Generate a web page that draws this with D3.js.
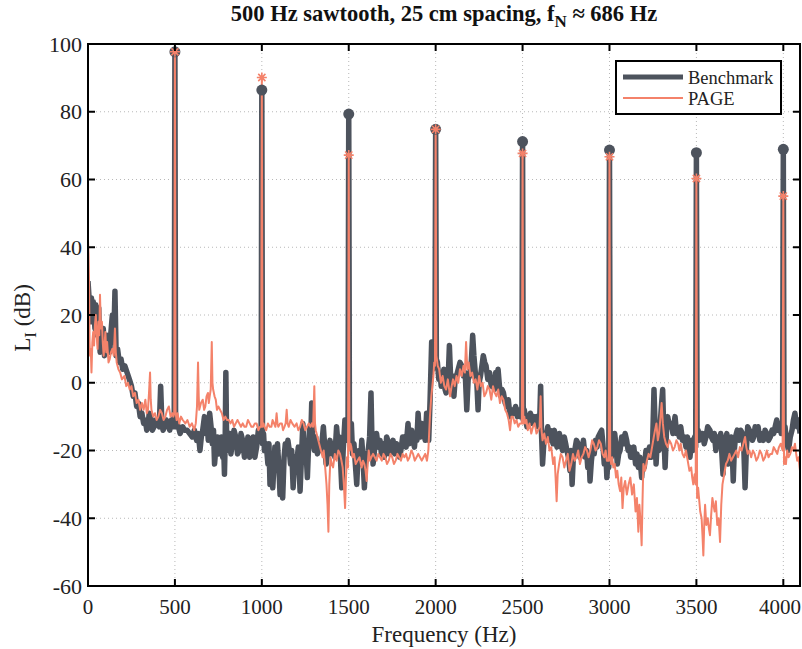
<!DOCTYPE html>
<html><head><meta charset="utf-8">
<script src="https://cdn.jsdelivr.net/npm/d3@7"></script>
<style>body{margin:0;background:#fff} svg{display:block} text{font-family:"Liberation Serif","Times New Roman",Tinos,"Nimbus Roman","DejaVu Serif",serif;}</style>
</head><body><svg id="c" width="802" height="649"></svg>
<script>
const xTicks=[0,500,1000,1500,2000,2500,3000,3500,4000];
const yTicks=[-60,-40,-20,0,20,40,60,80,100];
const harmonics=[500,1000,1500,2000,2500,3000,3500,4000];
const benchPeaks=[97.7,86.4,79.3,74.8,71.2,68.7,67.9,68.9];
const pagePeaks=[97.7,90.1,67.2,74.8,67.7,66.7,60.3,55.1];
const benchNoise=[[0,30],[5,26],[10,18],[15,22],[20,25],[25,18],[30,24],[35,20],[40,16],[45,23],[50,19],[55,14],[62,22],[66,12],[70,9],[75,14],[80,12],[88,16],[95,8],[102,13],[110,14],[118,10],[125,9],[132,15],[140,20],[148,12],[155,27],[162,8],[170,10],[180,6],[190,7],[200,4],[212,5],[225,3],[238,1],[250,-1],[260,-4],[270,-3],[280,-7],[290,-6],[300,-10],[310,-9],[320,-12],[330,-11],[338,-14],[345,-13],[352,-9],[360,-10],[370,-14],[380,-13],[390,-11],[400,-12],[410,-13],[418,-1],[425,-12],[432,-14],[440,-13],[450,-11],[460,-12],[470,-14],[480,-11],[490,-13],[496,-11],[504,-13],[512,-12],[520,-13],[530,-15],[545,-13],[555,-14],[570,-14],[585,-15],[600,-16],[612,-14],[625,-17],[635,-15],[644,-20],[652,-16],[660,-14],[670,-10],[678,-15],[685,-12],[692,-17],[700,-9],[708,-13],[715,-18],[722,-14],[728,-24],[736,-19],[745,-16],[752,-21],[760,-20],[768,-16],[775,-22],[780,-18],[785,-27],[789,-18],[793,3],[797,-14],[800,-20],[808,-17],[815,-15],[822,-21],[830,-18],[840,-14],[850,-16],[860,-21],[870,-20],[880,-15],[890,-17],[900,-22],[910,-20],[920,-16],[930,-22],[940,-18],[950,-16],[960,-22],[970,-19],[980,-14],[990,-15],[996,-16],[1004,-18],[1010,-15],[1015,-20],[1025,-18],[1035,-24],[1041,-18],[1047,-30],[1055,-22],[1063,-31],[1070,-24],[1075,-19],[1082,-23],[1090,-18],[1098,-25],[1105,-33],[1112,-26],[1120,-34],[1128,-22],[1135,-18],[1142,-21],[1150,-17],[1158,-20],[1165,-24],[1172,-20],[1180,-31],[1190,-22],[1200,-24],[1210,-19],[1220,-32],[1228,-22],[1236,-12],[1243,-20],[1250,-17],[1256,-22],[1262,-28],[1268,-20],[1275,-13],[1281,-17],[1287,-6],[1291,-15],[1295,-17],[1302,-20],[1310,-16],[1320,-21],[1330,-18],[1342,-20],[1354,-13],[1362,-19],[1370,-24],[1380,-20],[1392,-17],[1400,-21],[1410,-18],[1420,-22],[1430,-13],[1438,-18],[1445,-16],[1452,-22],[1460,-31],[1468,-20],[1478,-11],[1487,-17],[1496,-12],[1504,-13],[1510,-19],[1515,-12],[1522,-21],[1530,-18],[1538,-24],[1546,-30],[1553,-22],[1560,-20],[1567,-24],[1575,-17],[1582,-22],[1590,-31],[1596,-24],[1603,-22],[1612,-20],[1620,-16],[1628,-3],[1634,-18],[1640,-24],[1650,-19],[1660,-15],[1670,-19],[1680,-17],[1688,-21],[1695,-18],[1703,-22],[1711,-21],[1718,-16],[1725,-17],[1735,-21],[1745,-19],[1755,-17],[1765,-21],[1775,-18],[1785,-19],[1792,-22],[1800,-20],[1810,-16],[1820,-16],[1830,-19],[1841,-12],[1848,-18],[1855,-17],[1862,-14],[1870,-17],[1878,-19],[1885,-15],[1892,-17],[1899,-9],[1905,-14],[1912,-16],[1920,-12],[1930,-14],[1940,-17],[1948,-9],[1955,-13],[1960,-17],[1968,-5],[1977,12],[1983,4],[1990,5],[1996,8],[2004,7],[2010,6],[2018,1],[2025,3],[2032,-1],[2040,0],[2047,4],[2054,-2],[2060,-3],[2068,2],[2074,4],[2079,11],[2085,3],[2090,-1],[2098,2],[2105,-4],[2112,1],[2120,2],[2130,4],[2140,6],[2150,5],[2160,2],[2170,3],[2179,-8],[2187,1],[2195,2],[2205,6],[2213,14],[2220,8],[2228,3],[2236,1],[2244,-8],[2250,0],[2258,2],[2266,5],[2274,8],[2282,6],[2290,5],[2300,1],[2310,3],[2320,-1],[2330,1],[2338,-2],[2345,3],[2352,0],[2359,4],[2367,-1],[2375,-4],[2382,-2],[2390,-3],[2400,-6],[2410,-7],[2418,-5],[2428,-10],[2438,-8],[2450,-9],[2460,-7],[2470,-10],[2478,-8],[2485,-10],[2496,-10],[2504,-11],[2510,-8],[2515,-10],[2525,-13],[2535,-11],[2545,-9],[2555,-12],[2565,-10],[2575,-11],[2582,-10],[2590,-13],[2598,-12],[2604,-1],[2609,-15],[2615,-24],[2622,-18],[2630,-16],[2638,-15],[2645,-13],[2652,-17],[2658,-14],[2667,-16],[2675,-18],[2682,-14],[2690,-16],[2698,-19],[2705,-17],[2712,-15],[2720,-18],[2730,-20],[2740,-16],[2748,-18],[2755,-20],[2764,-22],[2773,-26],[2779,-20],[2785,-30],[2792,-22],[2800,-20],[2810,-17],[2820,-18],[2830,-22],[2840,-21],[2850,-17],[2860,-22],[2868,-20],[2875,-25],[2882,-21],[2888,-29],[2896,-23],[2905,-19],[2912,-21],[2920,-17],[2928,-19],[2935,-16],[2945,-15],[2955,-14],[2962,-18],[2970,-24],[2978,-20],[2985,-28],[2992,-22],[2996,-25],[3004,-20],[3010,-22],[3015,-16],[3022,-18],[3030,-15],[3038,-19],[3045,-24],[3053,-21],[3061,-20],[3070,-16],[3080,-18],[3090,-15],[3099,-17],[3107,-20],[3115,-19],[3122,-22],[3130,-21],[3140,-19],[3150,-24],[3158,-21],[3166,-25],[3175,-22],[3185,-28],[3192,-23],[3200,-25],[3210,-20],[3220,-22],[3230,-19],[3240,-22],[3248,-18],[3256,-2],[3262,-12],[3268,-24],[3276,-16],[3285,-20],[3292,-12],[3300,-6],[3306,-2],[3312,-14],[3320,-25],[3328,-14],[3335,-10],[3345,-13],[3355,-12],[3365,-15],[3377,-10],[3386,-15],[3395,-14],[3402,-16],[3410,-13],[3420,-17],[3430,-16],[3440,-19],[3448,-16],[3455,-19],[3463,-22],[3472,-17],[3480,-20],[3490,-16],[3496,-19],[3504,-17],[3510,-14],[3515,-17],[3525,-15],[3535,-15],[3545,-18],[3555,-16],[3565,-13],[3578,-14],[3586,-16],[3595,-17],[3603,-15],[3612,-20],[3620,-16],[3630,-18],[3640,-15],[3653,-27],[3659,-20],[3665,-17],[3675,-15],[3684,-24],[3692,-18],[3700,-16],[3706,-20],[3712,-29],[3718,-20],[3725,-16],[3735,-14],[3745,-17],[3755,-14],[3765,-15],[3772,-18],[3780,-31],[3787,-20],[3795,-13],[3805,-14],[3815,-15],[3822,-17],[3830,-16],[3838,-13],[3847,-15],[3855,-13],[3865,-17],[3875,-15],[3885,-17],[3895,-14],[3905,-15],[3915,-17],[3925,-16],[3935,-14],[3945,-15],[3953,-13],[3962,-11],[3970,-14],[3980,-12],[3988,-15],[3996,-12],[4004,-15],[4010,-13],[4015,-16],[4022,-18],[4030,-20],[4040,-16],[4050,-14],[4058,-11],[4067,-9],[4074,-12],[4080,-13],[4088,-11],[4096,-15]];
const pageNoise=[[0,42],[3,38],[6,30],[9,12],[12,8],[16,10],[20,3],[25,12],[30,15],[35,11],[40,17],[45,20],[50,14],[55,10],[60,18],[65,14],[69,26],[74,16],[80,18],[85,12],[90,8],[95,11],[100,15],[105,9],[110,12],[118,6],[125,7],[132,9],[140,10],[148,8],[155,16],[160,9],[165,6],[175,4],[185,3],[195,1],[210,2],[220,-1],[230,0],[240,-2],[250,-1],[260,-4],[270,-3],[280,-6],[290,-5],[300,-8],[310,-6],[320,-8],[330,-5],[338,-9],[345,-8],[351,-3],[357,3],[361,-5],[365,-8],[375,-10],[385,-9],[395,-11],[405,-10],[415,-8],[425,-9],[435,-11],[445,-10],[455,-8],[465,-7],[475,-10],[485,-9],[491,-10],[496,-9],[504,-9],[510,-11],[515,-9],[525,-12],[535,-10],[545,-11],[560,-12],[572,-11],[585,-13],[598,-12],[611,-14],[620,-12],[627,-7],[633,6],[637,-4],[640,-8],[650,-6],[660,-5],[668,-8],[675,-7],[682,-4],[690,-3],[695,-6],[700,-4],[706,-2],[712,12],[716,0],[720,-2],[728,-4],[735,-5],[742,-8],[750,-7],[760,-8],[770,-9],[780,-11],[790,-10],[800,-11],[810,-11],[820,-12],[830,-11],[840,-13],[850,-12],[860,-11],[870,-12],[880,-13],[890,-12],[900,-13],[910,-13],[920,-11],[930,-12],[940,-13],[950,-13],[960,-12],[970,-12],[980,-14],[990,-13],[996,-13],[1004,-13],[1010,-12],[1015,-13],[1025,-14],[1035,-12],[1045,-13],[1055,-13],[1062,-11],[1070,-12],[1078,-13],[1085,-9],[1090,-12],[1095,-13],[1105,-12],[1115,-12],[1122,-14],[1130,-13],[1137,-12],[1143,-8],[1148,-12],[1155,-13],[1165,-11],[1175,-12],[1188,-13],[1200,-12],[1210,-14],[1220,-13],[1230,-11],[1240,-12],[1250,-14],[1260,-13],[1270,-12],[1280,-13],[1288,-12],[1295,-13],[1302,-1],[1306,-12],[1310,-14],[1320,-16],[1330,-18],[1340,-20],[1350,-22],[1356,-20],[1363,-24],[1372,-30],[1378,-36],[1383,-44],[1388,-30],[1395,-22],[1402,-24],[1410,-25],[1420,-21],[1430,-23],[1440,-20],[1450,-21],[1458,-23],[1465,-25],[1472,-30],[1479,-37],[1484,-28],[1490,-22],[1496,-25],[1504,-20],[1510,-18],[1515,-19],[1522,-22],[1530,-21],[1540,-24],[1550,-23],[1562,-22],[1574,-25],[1582,-23],[1590,-24],[1597,-26],[1603,-29],[1609,-24],[1615,-20],[1622,-23],[1630,-22],[1640,-21],[1650,-22],[1660,-23],[1670,-21],[1680,-22],[1690,-23],[1700,-21],[1710,-22],[1720,-24],[1730,-23],[1740,-21],[1750,-22],[1760,-24],[1770,-23],[1780,-21],[1790,-22],[1800,-23],[1810,-21],[1820,-22],[1830,-21],[1840,-23],[1850,-22],[1860,-20],[1870,-21],[1880,-23],[1890,-22],[1900,-21],[1910,-22],[1920,-23],[1930,-22],[1940,-21],[1950,-23],[1958,-20],[1967,-10],[1975,-4],[1987,2],[1992,6],[1996,5],[2004,8],[2012,5],[2020,4],[2030,0],[2040,2],[2050,-1],[2060,-2],[2070,1],[2083,-4],[2092,-1],[2100,1],[2110,-1],[2120,2],[2130,0],[2140,4],[2150,2],[2160,5],[2168,3],[2175,12],[2182,4],[2190,6],[2200,2],[2210,3],[2220,0],[2230,1],[2240,-2],[2250,2],[2260,-1],[2270,0],[2280,-4],[2290,-3],[2300,-1],[2310,-2],[2320,-5],[2330,-1],[2340,-3],[2350,-4],[2360,-2],[2370,-6],[2380,-4],[2390,-5],[2400,-8],[2410,-9],[2420,-11],[2428,-14],[2436,-10],[2445,-10],[2455,-12],[2465,-11],[2475,-13],[2485,-12],[2496,-12],[2504,-12],[2510,-10],[2515,-12],[2522,-11],[2530,-14],[2540,-12],[2550,-15],[2560,-13],[2570,-12],[2580,-15],[2590,-14],[2598,-13],[2604,-4],[2609,-14],[2615,-17],[2625,-15],[2635,-18],[2645,-16],[2655,-20],[2665,-19],[2676,-24],[2684,-22],[2690,-28],[2696,-35],[2702,-27],[2710,-24],[2720,-21],[2730,-22],[2740,-25],[2750,-23],[2760,-21],[2770,-26],[2780,-24],[2790,-21],[2800,-23],[2810,-22],[2820,-20],[2830,-24],[2840,-22],[2850,-21],[2860,-19],[2870,-20],[2880,-22],[2890,-20],[2900,-17],[2910,-18],[2920,-20],[2930,-19],[2940,-17],[2950,-18],[2960,-21],[2970,-22],[2978,-20],[2985,-23],[2996,-23],[3004,-22],[3010,-24],[3015,-22],[3022,-25],[3030,-24],[3038,-28],[3045,-26],[3053,-30],[3061,-32],[3068,-28],[3075,-37],[3082,-31],[3090,-29],[3100,-33],[3110,-30],[3120,-28],[3130,-33],[3140,-30],[3150,-38],[3158,-34],[3166,-44],[3172,-36],[3180,-42],[3185,-48],[3190,-35],[3195,-24],[3205,-26],[3215,-23],[3225,-21],[3235,-22],[3245,-19],[3255,-16],[3262,-14],[3270,-12],[3278,-17],[3285,-15],[3292,-11],[3300,-6],[3307,-12],[3315,-16],[3325,-18],[3335,-19],[3345,-17],[3355,-18],[3365,-20],[3375,-19],[3385,-17],[3395,-18],[3402,-20],[3410,-18],[3420,-21],[3430,-22],[3440,-20],[3450,-23],[3460,-26],[3470,-25],[3476,-28],[3482,-30],[3490,-27],[3496,-30],[3504,-34],[3510,-31],[3515,-34],[3522,-38],[3530,-40],[3535,-45],[3540,-51],[3545,-42],[3550,-36],[3557,-42],[3565,-40],[3572,-43],[3578,-45],[3585,-39],[3592,-34],[3598,-36],[3605,-38],[3612,-35],[3620,-42],[3628,-40],[3636,-47],[3643,-36],[3650,-30],[3660,-27],[3670,-24],[3680,-23],[3690,-21],[3700,-23],[3710,-22],[3720,-21],[3730,-20],[3740,-22],[3750,-19],[3760,-20],[3770,-18],[3780,-16],[3787,-19],[3795,-21],[3805,-20],[3815,-22],[3825,-20],[3835,-21],[3845,-23],[3855,-22],[3865,-20],[3875,-21],[3885,-23],[3895,-22],[3905,-20],[3915,-22],[3925,-21],[3935,-21],[3945,-19],[3955,-20],[3965,-21],[3975,-19],[3985,-18],[3996,-20],[4004,-24],[4010,-22],[4015,-24],[4022,-20],[4030,-22],[4040,-21],[4050,-19],[4058,-20],[4067,-18],[4074,-21],[4080,-23],[4088,-22],[4096,-26]];

const benchColor="#4d535d", pageColor="#f4826a";
const W=802,H=649, m={l:88,r:2,t:44,b:63};
const svg=d3.select("#c");
svg.append("rect").attr("width",W).attr("height",H).attr("fill","#fff");
const x=d3.scaleLinear().domain([0,4096]).range([m.l,W-m.r]);
const y=d3.scaleLinear().domain([-60,100]).range([H-m.b,m.t]);

// grid
const g=svg.append("g");
g.selectAll(".gx").data(xTicks.slice(1)).join("line").attr("x1",d=>x(d)).attr("x2",d=>x(d)).attr("y1",y(-60)).attr("y2",y(100))
 .attr("stroke","#b8b8b8").attr("stroke-width",1).attr("stroke-dasharray","1,3");
g.selectAll(".gy").data(yTicks.slice(1,-1)).join("line").attr("y1",d=>y(d)).attr("y2",d=>y(d)).attr("x1",x(0)).attr("x2",x(4096))
 .attr("stroke","#b8b8b8").attr("stroke-width",1).attr("stroke-dasharray","1,3");

svg.append("clipPath").attr("id","clip").append("rect").attr("x",x(0)).attr("y",y(100)).attr("width",x(4096)-x(0)).attr("height",y(-60)-y(100));

function series(noise,peaks){
  const pts=noise.concat(harmonics.map((h,i)=>[h,peaks[i]]));
  return pts.sort((a,b)=>a[0]-b[0]);
}
const line=d3.line().x(d=>x(d[0])).y(d=>y(d[1]));
const plot=svg.append("g").attr("clip-path","url(#clip)");
plot.append("path").attr("d",line(series(benchNoise,benchPeaks))).attr("fill","none").attr("stroke",benchColor).attr("stroke-width",5.5).attr("stroke-linejoin","round");
plot.append("path").attr("d",line(series(pageNoise,pagePeaks))).attr("fill","none").attr("stroke",pageColor).attr("stroke-width",2).attr("stroke-linejoin","round");

// markers
svg.selectAll(".bm").data(harmonics).join("circle").attr("cx",d=>x(d)).attr("cy",(d,i)=>y(benchPeaks[i])).attr("r",5.5).attr("fill",benchColor);
const ast="M-5,0H5M0,-5V5M-3.6,-3.6L3.6,3.6M-3.6,3.6L3.6,-3.6";
svg.selectAll(".pm").data(harmonics).join("path").attr("d",ast).attr("transform",(d,i)=>`translate(${x(d)},${y(pagePeaks[i])})`)
 .attr("stroke",pageColor).attr("stroke-width",1.6).attr("fill","none");

// axes frame & ticks
const ax=svg.append("g");
ax.append("rect").attr("x",x(0)).attr("y",y(100)).attr("width",x(4096)-x(0)).attr("height",y(-60)-y(100)).attr("fill","none").attr("stroke","#000").attr("stroke-width",2);
const tl=7;
ax.selectAll(".tb").data(xTicks).join("line").attr("x1",d=>x(d)).attr("x2",d=>x(d)).attr("y1",y(-60)).attr("y2",y(-60)-tl).attr("stroke","#000").attr("stroke-width",2);
ax.selectAll(".tt").data(xTicks).join("line").attr("x1",d=>x(d)).attr("x2",d=>x(d)).attr("y1",y(100)).attr("y2",y(100)+tl).attr("stroke","#000").attr("stroke-width",2);
ax.selectAll(".tl").data(yTicks).join("line").attr("y1",d=>y(d)).attr("y2",d=>y(d)).attr("x1",x(0)).attr("x2",x(0)+tl).attr("stroke","#000").attr("stroke-width",2);
ax.selectAll(".tr").data(yTicks).join("line").attr("y1",d=>y(d)).attr("y2",d=>y(d)).attr("x1",x(4096)).attr("x2",x(4096)-tl).attr("stroke","#000").attr("stroke-width",2);
ax.selectAll(".xl").data(xTicks).join("text").attr("x",d=>Math.min(x(d),W-22)).attr("y",y(-60)+28).attr("text-anchor","middle")
 .attr("font-size",21).attr("fill","#222").text(d=>d);
ax.selectAll(".yl").data(yTicks).join("text").attr("x",x(0)-6).attr("y",d=>y(d)+7.5).attr("text-anchor","end")
 .attr("font-size",22).attr("fill","#222").text(d=>d);

// labels
svg.append("text").attr("x",(x(0)+x(4096))/2).attr("y",642).attr("text-anchor","middle").attr("font-size",23).attr("fill","#222").text("Frequency (Hz)");
const yl=svg.append("text").attr("transform","translate(30,318) rotate(-90)").attr("text-anchor","middle").attr("font-size",23).attr("fill","#222");
yl.append("tspan").text("L");
yl.append("tspan").attr("dy",6).attr("font-size",17).text("I");
yl.append("tspan").attr("dy",-6).text(" (dB)");
const tt=svg.append("text").attr("x",(x(0)+x(4096))/2).attr("y",21).attr("text-anchor","middle").attr("font-size",22.5).attr("font-weight","bold").attr("fill","#111");
tt.append("tspan").text("500 Hz sawtooth, 25 cm spacing, f");
tt.append("tspan").attr("dy",6).attr("font-size",17).text("N");
tt.append("tspan").attr("dy",-6).text(" ≈ 686 Hz");

// legend
const lg=svg.append("g");
lg.append("rect").attr("x",616).attr("y",61).attr("width",165).attr("height",53).attr("fill","#fff").attr("stroke","#000").attr("stroke-width",2);
lg.append("line").attr("x1",623).attr("x2",683).attr("y1",77).attr("y2",77).attr("stroke",benchColor).attr("stroke-width",5);
lg.append("line").attr("x1",623).attr("x2",683).attr("y1",98).attr("y2",98).attr("stroke",pageColor).attr("stroke-width",2);
lg.append("text").attr("x",688).attr("y",84).attr("font-size",18.5).attr("fill","#222").text("Benchmark");
lg.append("text").attr("x",688).attr("y",105).attr("font-size",18.5).attr("fill","#222").text("PAGE");
</script></body></html>
